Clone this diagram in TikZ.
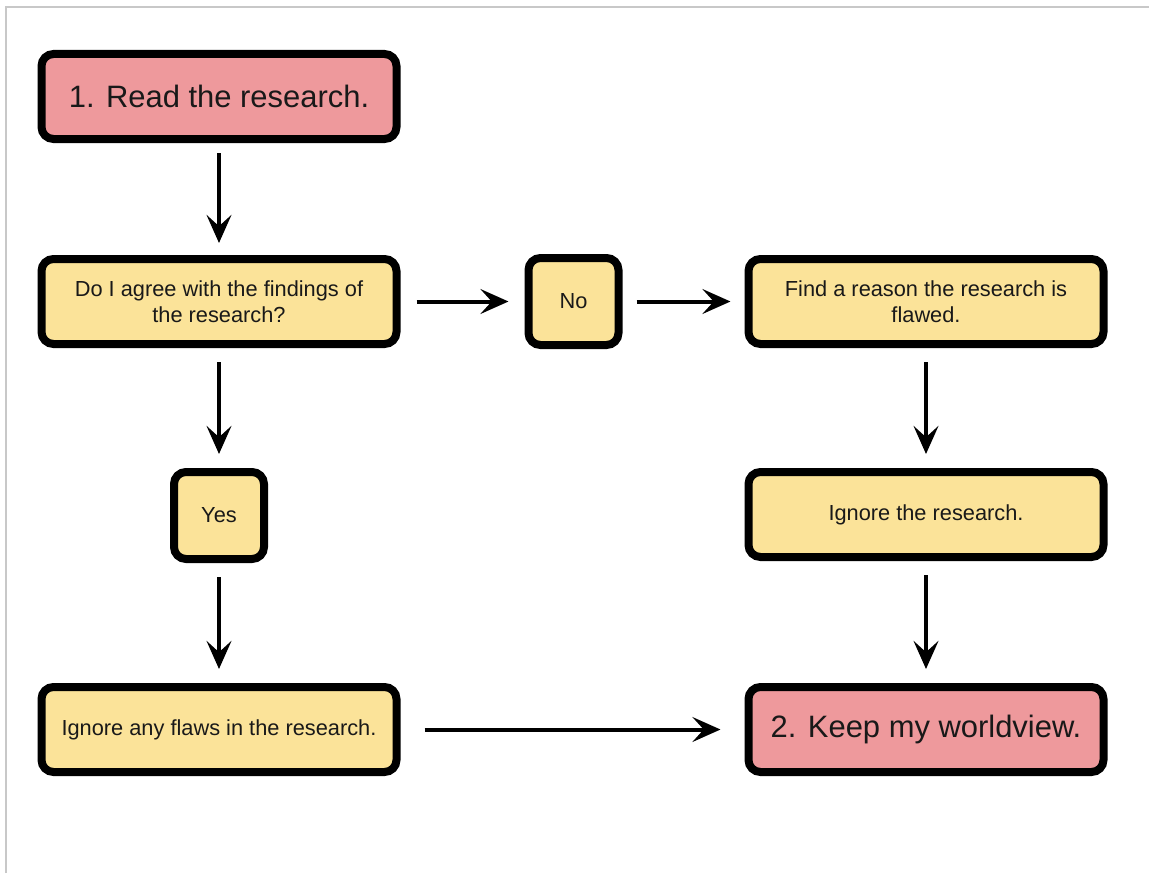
\documentclass[tikz,border=0pt]{standalone}
\usepackage{fontspec}
\setmainfont{Liberation Sans}
\usepackage{tikz}
\usetikzlibrary{positioning, arrows.meta}
\definecolor{boxpink}{RGB}{238,153,156}
\definecolor{boxyellow}{RGB}{251,227,153}
\definecolor{framegray}{RGB}{200,200,200}
\tikzset{->, >={Stealth[length=0.7cm, width=0.62cm, inset=0.28cm]}, node distance = 3cm}

\begin{document}
\begin{tikzpicture}[block_center/.style ={rectangle, rounded corners=0.3cm, draw=black, line width=0.2cm, fill=boxyellow, text=black!90, align=center, minimum width=8.875cm, minimum height=2.125cm, font=\fontsize{15.5}{18.5}\selectfont},
block_end/.style={block_center, fill=boxpink, font=\fontsize{22}{26}\selectfont},
block_small/.style={block_center, minimum width=2.25cm, minimum height=2.175cm},
flow/.style={line width=0.1cm, shorten >=0.35cm, shorten <=0.35cm}]
    \useasboundingbox (0,0) rectangle (28.725,-21.825);
    \draw[-, framegray, line width=0.05cm] (0.15,-21.825) |- (28.725,-0.175);

    \node[block_end] (read) at (5.475,-2.4125) {1. Read the research.};
    \node[block_center, below=2.8cm of read] (agree) {Do I agree with the findings of\\the research?};
    \node[block_small, right=3.1cm of agree] (no) {No};
    \node[block_center, right=3.05cm of no] (find) {Find a reason the research is\\flawed.};
    \node[block_small, below=of agree] (yes) {Yes};
    \node[block_center, below=3cm of yes] (flaws) {Ignore any flaws in the research.};
    \node[block_center, below=of find] (ignore) {Ignore the research.};
    \node[block_end, below=3.05cm of ignore] (keep) {2. Keep my worldview.};

    \draw[flow, shorten <=0.25cm, shorten >=0.3cm] (read) -- (agree);
    \draw[flow, shorten <=0.4cm, shorten >=0.4cm] (agree) -- (no);
    \draw[flow] (no) -- (find);
    \draw[flow] (agree) -- (yes);
    \draw[flow] (yes) -- (flaws);
    \draw[flow] (find) -- (ignore);
    \draw[flow] (ignore) -- (keep);
    \draw[flow, shorten <=0.6cm, shorten >=0.6cm] (flaws) -- (keep);
\end{tikzpicture}
\end{document}
